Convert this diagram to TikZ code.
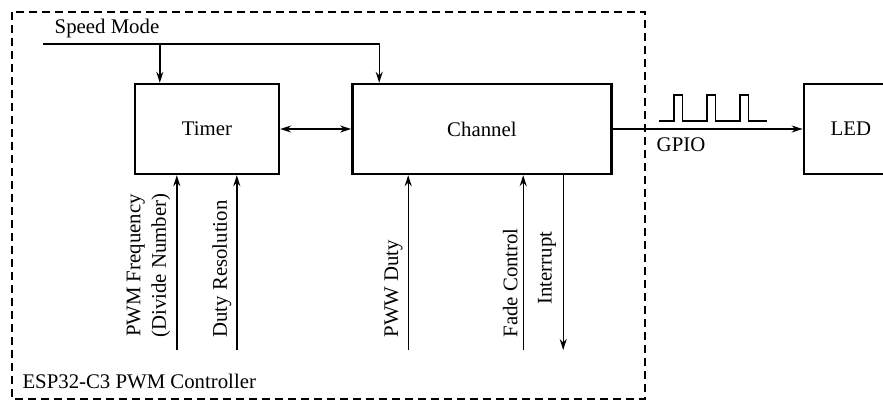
\documentclass[tikz,border=0pt]{standalone}
\usepackage{fontspec}
\setmainfont{Liberation Serif}
\usetikzlibrary{positioning,arrows.meta,calc}
\tikzset{>={Stealth[length=11pt,width=7pt]}}
\tikzset{every node/.style={font=\fontsize{20.8}{25.5}\selectfont}}
\tikzset{myblock/.style={draw,line width=2.4pt,minimum width=144pt,minimum height=90pt,inner sep=0pt}}
\tikzset{mywire/.style={line width=1.4pt}}
\tikzset{mylabel/.style={rotate=90,align=center}}
\tikzset{myframe/.style={line width=1.5pt,dash pattern=on 8pt off 5pt}}

\begin{document}
\begin{tikzpicture}[x=1pt,y=1pt]
    \useasboundingbox (0,0) rectangle (883,-400);
    \clip (0,0) rectangle (883,-400);
    % blocks
    \node[myblock] (timer) at (207,-129) {Timer};
    \node[myblock,minimum width=259pt,right=71pt of timer] (channel) {Channel};
    \node[myblock,minimum width=94pt,right=190pt of channel] (led) {LED};
    \draw[myframe] (12,-12) rectangle (645,-399);
    \node[anchor=west] (ctrl) at (19,-381) {ESP32-C3 PWM Controller};
    % speed mode
    \coordinate (speed) at (43,-44);
    \coordinate (base) at (0,-350);
    \node (speedlbl) at (107,-28) {Speed Mode};
    \coordinate (tin) at ([xshift=26pt]timer.north west);
    \draw[mywire,->] (speed) -| ([xshift=28pt]channel.north west);
    \draw[mywire,->] (tin |- speed) -- (tin);
    \draw[mywire,<->] (timer) -- (channel);
    % output
    \draw[mywire,->] (channel) -- (led);
    \node (gpio) at (681,-145) {GPIO};
    \draw[line width=1.8pt] (659,-121) foreach \p in {674,707,740}{
        -- (\p,-121) -- (\p,-95) -- (\p+8.5,-95) -- (\p+8.5,-121)} -- (767,-121);
    % inputs from below
    \foreach \b/\dx/\n in {timer/43/freq,timer/103/res,channel/57/duty,channel/172/fade}{
        \coordinate (\n) at ([xshift=\dx pt]\b.south west);
        \coordinate (\n0) at (\n |- base);
        \draw[mywire,->] (\n0) -- (\n);
    }
    \coordinate (irq) at ([xshift=212pt]channel.south west);
    \draw[mywire,->] (irq) -- (irq |- base);
    \node[mylabel,anchor=south west] (freqlbl) at ([shift={(-3pt,9pt)}]freq0) {PWM Frequency\\(Divide Number)};
    \node[mylabel,anchor=south west] (reslbl) at ([shift={(-2pt,9pt)}]res0) {Duty Resolution};
    \node[mylabel,anchor=south west] (dutylbl) at ([shift={(-2pt,9pt)}]duty0) {PWW Duty};
    \node[mylabel,anchor=south west] (fadelbl) at ([shift={(-2pt,9pt)}]fade0) {Fade Control};
    \node[mylabel,anchor=south east] (irqlbl) at ([shift={(-3.5pt,-53pt)}]irq) {Interrupt};
\end{tikzpicture}
\end{document}
